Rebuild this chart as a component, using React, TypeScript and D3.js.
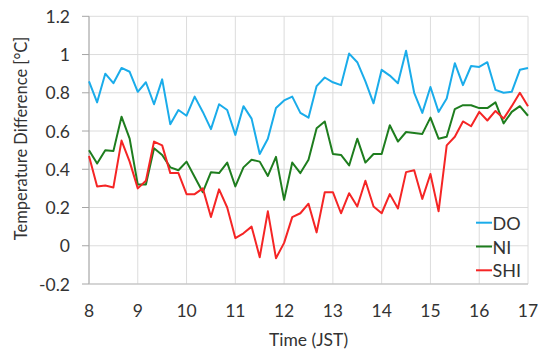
import React from "react";
import * as d3 from "d3";

const hours: number[] = Array.from({ length: 55 }, (_, i) => 8 + i / 6);

const doValues: number[] = [
  0.86, 0.75, 0.9, 0.85, 0.93, 0.91, 0.805, 0.855, 0.74, 0.87,
  0.635, 0.71, 0.68, 0.78, 0.7, 0.61, 0.74, 0.71, 0.58, 0.73,
  0.665, 0.48, 0.56, 0.72, 0.76, 0.78, 0.695, 0.67, 0.835, 0.88,
  0.855, 0.84, 1.005, 0.96, 0.86, 0.745, 0.92, 0.89, 0.85, 1.02,
  0.8, 0.695, 0.83, 0.7, 0.77, 0.955, 0.84, 0.94, 0.935, 0.96,
  0.815, 0.8, 0.805, 0.92, 0.93,
];

const niValues: number[] = [
  0.5, 0.43, 0.5, 0.495, 0.675, 0.56, 0.32, 0.32, 0.51, 0.475,
  0.41, 0.395, 0.44, 0.36, 0.28, 0.385, 0.38, 0.435, 0.31, 0.41,
  0.45, 0.44, 0.365, 0.465, 0.24, 0.435, 0.38, 0.45, 0.615, 0.65,
  0.48, 0.475, 0.42, 0.56, 0.435, 0.48, 0.48, 0.63, 0.545, 0.595,
  0.59, 0.585, 0.67, 0.56, 0.57, 0.715, 0.735, 0.735, 0.72, 0.72,
  0.75, 0.64, 0.7, 0.73, 0.68,
];

const shiValues: number[] = [
  0.47, 0.31, 0.315, 0.305, 0.55, 0.44, 0.3, 0.34, 0.545, 0.525,
  0.38, 0.38, 0.27, 0.27, 0.3, 0.15, 0.295, 0.2, 0.04, 0.065,
  0.1, -0.06, 0.18, -0.065, 0.015, 0.15, 0.17, 0.22, 0.07, 0.28,
  0.28, 0.17, 0.275, 0.205, 0.34, 0.205, 0.17, 0.27, 0.195, 0.385,
  0.395, 0.245, 0.375, 0.18, 0.525, 0.57, 0.65, 0.625, 0.7, 0.655,
  0.705, 0.665, 0.73, 0.8, 0.73,
];

const xTicks: number[] = [8, 9, 10, 11, 12, 13, 14, 15, 16, 17];
const yTicks: number[] = [-0.2, 0, 0.2, 0.4, 0.6, 0.8, 1, 1.2];

const seriesNames: string[] = ["DO", "NI", "SHI"];
const seriesColors: string[] = ["#1aacea", "#1e7d1e", "#f52525"];
const seriesData: number[][] = [doValues, niValues, shiValues];

const W = 538;
const H = 349;
const margin = { left: 89, right: 10, top: 16.3, bottom: 65 };
const FONT = "Lato, 'Open Sans', sans-serif";
const TEXT = "#333333";

export default function App() {
  const x = d3.scaleLinear().domain([8, 17]).range([margin.left, W - margin.right]);
  const y = d3.scaleLinear().domain([-0.2, 1.2]).range([H - margin.bottom, margin.top]);
  const line = d3
    .line<number>()
    .x((_, i) => x(hours[i]))
    .y((d) => y(d));

  const fmt = (v: number) => {
    const r = Math.round(v * 10) / 10;
    return r === 0 ? "0" : String(r);
  };

  return (
    <svg
      width={W}
      height={H}
      style={{ position: "absolute", left: 0, top: 0, background: "#fff" }}
      fontFamily={FONT}
    >
      {yTicks.map((t) => (
        <line key={"gy" + t} x1={x(8)} x2={x(17)} y1={y(t)} y2={y(t)} stroke="#dcdcdc" strokeWidth={1} />
      ))}
      {xTicks.map((t) => (
        <line key={"gx" + t} x1={x(t)} x2={x(t)} y1={y(-0.2)} y2={y(1.2)} stroke="#dcdcdc" strokeWidth={1} />
      ))}
      {/* left axis */}
      <line x1={x(8)} x2={x(8)} y1={y(-0.2)} y2={y(1.2)} stroke="#a6a6a6" strokeWidth={1} />
      {yTicks.map((t) => (
        <line key={"ty" + t} x1={x(8) - 7} x2={x(8)} y1={y(t)} y2={y(t)} stroke="#a6a6a6" strokeWidth={1} />
      ))}
      {/* bottom axis */}
      <line x1={x(8)} x2={x(17)} y1={y(-0.2)} y2={y(-0.2)} stroke="#bdbdbd" strokeWidth={1} />

      {yTicks.map((t) => (
        <text
          key={"ly" + t}
          x={70}
          y={y(t)}
          textAnchor="end"
          dominantBaseline="central"
          fontSize={17.5}
          fill={TEXT}
        >
          {fmt(t)}
        </text>
      ))}
      {xTicks.map((t) => (
        <text key={"lx" + t} x={x(t)} y={317} textAnchor="middle" fontSize={17.5} fill={TEXT}>
          {t}
        </text>
      ))}

      <text x={(x(8) + x(17)) / 2} y={346} textAnchor="middle" fontSize={17.5} fill={TEXT}>
        Time (JST)
      </text>
      <text
        transform={`translate(27, ${(32 + 245) / 2}) rotate(-90)`}
        textAnchor="middle"
        fontSize={16.5}
        fill={TEXT}
      >
        Temperature Difference [°C]
      </text>

      {seriesData.map((vals, k) => (
        <path
          key={seriesNames[k]}
          d={line(vals) || ""}
          fill="none"
          stroke={seriesColors[k]}
          strokeWidth={2}
          strokeLinejoin="round"
        />
      ))}

      {seriesNames.map((name, k) => (
        <g key={"lg" + name} transform={`translate(476, ${222.7 + k * 23.8})`}>
          <line x1={0} x2={16} y1={0} y2={0} stroke={seriesColors[k]} strokeWidth={2} />
          <text x={16.5} y={0} dominantBaseline="central" fontSize={18} fill={TEXT}>
            {name}
          </text>
        </g>
      ))}
    </svg>
  );
}
